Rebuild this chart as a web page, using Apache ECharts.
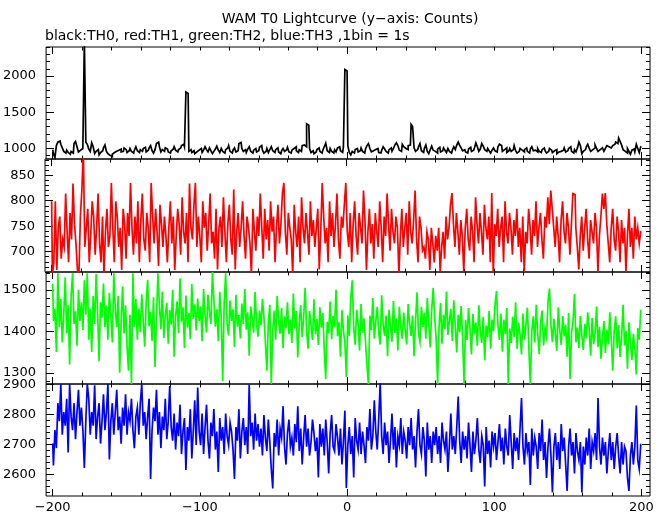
<!DOCTYPE html>
<html><head><meta charset="utf-8">
<script src="https://cdn.jsdelivr.net/npm/echarts@6/dist/echarts.min.js"></script>
<style>html,body{margin:0;padding:0;background:#fff}#c{width:669px;height:515px}</style>
</head><body><div id="c"></div>
<script>
const titleText = 'WAM T0 Lightcurve (y\u2212axis: Counts)';
const subtitleText = 'black:TH0, red:TH1, green:TH2, blue:TH3 ,1bin = 1s';
const timeStart = -200; // time of first 1-s bin

const th0 = [
981,925,870,1037,1085,1100,1055,1005,957,933,973,941,917,957,933,1065,1095,1021,949,973,
997,1037,2500,1085,1055,989,957,1075,1021,925,957,981,909,941,965,1005,1045,957,925,901,
885,917,941,957,933,973,989,949,957,1005,981,941,965,997,957,933,973,1021,965,941,
981,957,997,1013,949,973,1005,1037,965,933,981,1065,1085,1021,949,981,957,1005,989,949,
933,965,989,1021,973,949,981,1005,1037,1055,1021,1780,1760,957,981,941,965,925,949,973,
957,997,941,973,1021,981,949,1005,965,925,957,989,1029,973,941,997,957,933,981,1005,
1037,957,933,973,1005,949,965,1065,1080,997,957,981,941,989,1021,957,933,973,997,949,
965,1013,1037,973,933,957,997,941,981,1021,965,941,981,1005,949,925,965,997,957,981,
1013,949,933,973,997,1021,965,941,981,957,1037,1045,1021,1340,1320,997,941,965,925,949,
981,1005,957,933,973,1021,1070,965,941,997,957,933,981,949,1005,1021,965,941,1021,2090,
2070,1037,941,909,957,933,981,997,949,965,1005,957,933,989,1037,1065,997,949,965,981,
957,997,941,933,973,1021,989,957,933,981,1005,957,997,1045,1075,1037,973,957,1055,1021,
997,981,1037,1045,1330,1300,1005,957,981,1021,1065,965,941,997,1045,957,925,981,1029,973,
957,933,989,1013,949,965,1005,973,941,997,957,933,973,1021,981,1045,1085,1037,1005,965,
981,949,933,989,1013,957,973,1005,1075,1021,957,989,1065,1029,981,957,997,965,933,973,
1005,965,949,1021,1055,1037,957,981,1005,941,965,997,957,981,1037,965,933,957,997,973,
949,981,1005,957,933,989,1021,965,973,949,997,957,941,981,1005,965,933,957,997,973,
941,965,981,925,949,957,933,973,1005,949,965,997,1021,957,933,981,949,1005,1085,1037,
925,957,981,1021,1055,997,957,981,1005,1045,997,957,981,1005,1021,957,997,1037,1021,1005,
1021,1037,1055,1085,1065,1140,1095,1045,981,957,933,997,957,917,973,989,949,1055,997,941,
1021];

const th1 = [
799,655,679,799,664,747,769,686,724,709,814,739,679,776,724,834,754,716,664,655,
769,821,900,709,747,784,679,731,799,769,694,747,814,716,679,769,655,739,784,709,
731,835,747,679,799,769,709,747,664,784,754,686,776,731,835,747,694,769,716,799,
679,762,814,724,702,776,747,679,835,769,716,784,739,672,792,754,709,769,731,679,
747,799,716,769,664,731,784,754,694,807,739,716,776,679,834,747,724,792,835,709,
769,731,679,799,747,776,702,754,814,716,739,686,784,665,747,769,709,807,739,679,
754,792,724,694,822,665,739,776,709,747,799,731,686,769,747,716,655,784,739,702,
769,731,814,747,686,784,724,762,702,799,739,769,679,747,792,716,754,814,835,739,
694,776,747,724,655,792,739,709,769,679,807,747,716,776,739,694,799,731,762,709,
747,784,665,739,835,769,716,747,679,799,731,776,709,754,814,724,686,769,747,792,
835,739,709,776,679,754,799,731,694,776,747,716,820,762,664,739,784,716,754,686,
776,739,709,799,747,679,769,731,814,754,702,784,739,716,769,747,655,731,784,709,
747,776,694,799,739,716,762,820,724,679,769,747,702,709,686,739,724,664,747,716,
679,731,702,747,660,709,739,686,769,724,747,792,815,754,709,776,739,694,762,731,
660,747,784,724,702,769,739,679,807,754,716,776,739,694,792,747,724,769,679,815,
655,754,731,784,709,747,769,679,799,739,716,776,747,694,762,731,784,709,747,679,
769,660,739,716,784,747,694,762,731,799,709,747,776,724,686,769,747,807,754,820,
784,747,709,769,731,679,762,799,739,716,776,747,694,754,814,812,747,709,665,731,
769,702,747,784,724,686,762,739,716,776,747,660,731,769,814,784,815,754,716,679,
747,784,724,702,769,739,679,762,716,747,660,731,784,709,747,686,769,724,747,716,
739];

const th2 = [
1515,1425,1455,1350,1540,1410,1478,1373,1440,1530,1395,1463,1320,1485,1540,1418,1448,1365,1500,1425,
1470,1403,1523,1440,1540,1380,1455,1350,1485,1418,1538,1448,1328,1470,1433,1515,1410,1463,1380,1493,
1440,1373,1540,1455,1410,1485,1300,1425,1508,1395,1463,1365,1305,1440,1273,1540,1410,1478,1380,1455,
1398,1489,1426,1363,1468,1524,1412,1447,1377,1482,1314,1433,1540,1461,1405,1496,1384,1440,1468,1370,
1451,1416,1500,1339,1437,1472,1395,1528,1423,1458,1360,1486,1409,1444,1381,1514,1430,1465,1402,1479,
1425,1460,1376,1502,1439,1397,1488,1446,1418,1543,1474,1411,1453,1376,1495,1432,1280,1467,1540,1418,
1390,1474,1425,1453,1362,1488,1411,1439,1383,1467,1418,1502,1404,1446,1341,1460,1432,1397,1495,1418,
1387,1450,1415,1478,1436,1373,1305,1422,1464,1273,1401,1450,1380,1485,1422,1394,1457,1359,1436,1408,
1470,1393,1428,1372,1491,1407,1449,1337,1421,1463,1386,1435,1505,1400,1358,1449,1414,1379,1477,1393,
1430,1367,1458,1409,1444,1353,1285,1423,1395,1472,1381,1437,1409,1500,1388,1423,1339,1451,1402,1374,
1290,1438,1389,1480,1523,1410,1368,1452,1417,1354,1466,1396,1431,1375,1319,1273,1438,1403,1480,1382,
1424,1459,1396,1368,1487,1417,1389,1438,1340,1452,1410,1375,1473,1396,1431,1354,1459,1410,1382,1445,
1403,1368,1466,1417,1389,1438,1340,1424,1494,1396,1375,1459,1410,1445,1382,1480,1417,1361,1452,1505,
1433,1384,1273,1412,1468,1370,1440,1405,1496,1391,1426,1454,1377,1475,1412,1349,1440,1398,1461,1384,
1273,1428,1379,1456,1407,1344,1442,1393,1421,1365,1463,1400,1372,1435,1330,1414,1386,1449,1358,1428,
1400,1463,1497,1414,1379,1442,1351,1428,1393,1456,1273,1407,1372,1435,1386,1470,1358,1421,1393,1344,
1443,1380,1415,1457,1359,1273,1400,1436,1373,1464,1394,1345,1422,1450,1366,1408,1387,1471,1503,1415,
1374,1430,1395,1353,1458,1402,1367,1437,1388,1416,1339,1444,1285,1395,1423,1490,1374,1409,1360,1437,
1390,1355,1418,1383,1446,1404,1341,1432,1369,1397,1460,1362,1411,1334,1383,1425,1348,1404,1369,1446,
1380,1305,1401,1436,1359,1415,1338,1387,1464,1366,1401,1310,1422,1373,1331,1394,1359,1296,1408,1380,
1450];

const th3 = [
2703,2630,2748,2688,2838,2778,2902,2733,2808,2763,2853,2673,2902,2793,2748,2838,2718,2808,2883,2763,
2823,2748,2622,2778,2902,2853,2733,2808,2763,2898,2718,2793,2838,2703,2778,2868,2748,2808,2902,2650,
2778,2838,2733,2808,2883,2748,2793,2703,2823,2763,2868,2733,2808,2778,2853,2748,2688,2793,2823,2733,
2838,2902,2763,2808,2718,2793,2853,2585,2748,2823,2778,2883,2733,2808,2688,2793,2748,2853,2718,2778,
2895,2758,2713,2803,2683,2773,2728,2833,2668,2743,2788,2615,2758,2713,2818,2653,2743,2848,2698,2890,
2743,2698,2803,2668,2758,2833,2713,2653,2773,2728,2818,2683,2743,2608,2788,2713,2758,2668,2803,2728,
2698,2773,2743,2683,2585,2758,2713,2818,2653,2743,2788,2698,2758,2668,2900,2728,2773,2683,2803,2713,
2768,2693,2753,2663,2798,2723,2678,2783,2708,2618,2553,2738,2693,2783,2663,2753,2723,2828,2693,2633,
2738,2783,2693,2723,2663,2768,2708,2828,2678,2753,2633,2723,2798,2693,2753,2663,2708,2783,2738,2678,
2723,2590,2768,2693,2753,2663,2783,2708,2603,2738,2798,2693,2678,2768,2723,2663,2753,2633,2708,2813,
2555,2698,2758,2668,2728,2590,2788,2713,2683,2773,2668,2743,2698,2638,2758,2713,2818,2683,2728,2848,
2743,2683,2788,2905,2728,2668,2773,2698,2743,2638,2713,2803,2683,2758,2623,2728,2698,2788,2668,2743,
2713,2653,2758,2698,2788,2683,2728,2623,2743,2818,2698,2668,2758,2713,2593,2773,2683,2728,2638,2743,
2698,2758,2668,2728,2638,2773,2713,2683,2743,2608,2698,2803,2683,2728,2668,2758,2860,2713,2638,2743,
2683,2728,2653,2773,2698,2608,2743,2668,2713,2788,2683,2638,2728,2698,2560,2758,2668,2713,2623,2743,
2693,2738,2648,2708,2768,2678,2723,2633,2753,2693,2663,2798,2708,2618,2738,2678,2723,2648,2753,2855,
2693,2633,2738,2678,2708,2565,2753,2663,2723,2693,2618,2738,2678,2783,2648,2708,2588,2693,2753,2663,
2540,2693,2738,2648,2708,2618,2768,2678,2723,2633,2545,2693,2753,2663,2708,2603,2738,2678,2648,2708,
2540,2693,2633,2723,2663,2753,2618,2708,2678,2738,2648,2855,2693,2633,2723,2663,2708,2603,2678,2738,
2648,2708,2618,2693,2738,2663,2603,2708,2633,2693,2678,2588,2545,2663,2708,2633,2693,2830,2648,2618,
2700];

const xLabels = [-200, -100, 0, 100, 200];
const xMajorTicks = [-200, 0, 200];
const xMinorTicks = [-200,-180,-160,-140,-120,-100,-80,-60,-40,-20,0,20,40,60,80,100,120,140,160,180,200];
const yLabels = [
  [1000, 1500, 2000],
  [700, 750, 800, 850],
  [1300, 1400, 1500],
  [2600, 2700, 2800, 2900]
];
const yMinorTicks = [
  [900,1000,1100,1200,1300,1400,1500,1600,1700,1800,1900,2000,2100,2200,2300,2400],
  [660,670,680,690,700,710,720,730,740,750,760,770,780,790,800,810,820,830,840,850,860,870,880],
  [1280,1300,1320,1340,1360,1380,1400,1420,1440,1460,1480,1500,1520,1540],
  [2540,2560,2580,2600,2620,2640,2660,2680,2700,2720,2740,2760,2780,2800,2820,2840,2860,2880,2900]
];
const yRanges = [[851, 2403], [660, 882], [1273, 1543], [2528, 2902]];
const xRange = [-204.5, 205.8];

const FONT = '"DejaVu Sans", Verdana, sans-serif';
const panelBoxes = [{top:47,height:112},{top:159,height:113},{top:272,height:112},{top:384,height:112}];
const colors = ['#000000', '#ff0000', '#00ff00', '#0000ff'];
const seriesData = [th0, th1, th2, th3];

const grids = panelBoxes.map(b => ({left:45, right:19, top:b.top, height:b.height, show:true, borderColor:'#000', borderWidth:1, backgroundColor:'transparent'}));
const xAxes = [], yAxes = [], series = [];
const plain = v => String(v).replace('-', '\u2212');

for (let p = 0; p < 4; p++) {
  const xi = xAxes.length;
  [['bottom', xMajorTicks, 7, p === 3], ['bottom', xMinorTicks, 3.5, false],
   ['top', xMajorTicks, 7, false], ['top', xMinorTicks, 3.5, false]].forEach(([pos, ticks, len, lab]) => {
    xAxes.push({
      type:'value', gridIndex:p, position:pos, min:xRange[0], max:xRange[1],
      axisLine:{show:false, onZero:false}, splitLine:{show:false},
      axisTick:{show:true, inside:true, length:len, customValues:ticks, lineStyle:{color:'#000', width:1}},
      axisLabel:{show:lab, customValues:xLabels, margin:5, color:'#000', fontFamily:FONT, fontSize:13, formatter:plain}
    });
  });
  const yi = yAxes.length;
  [['left', yLabels[p], 8, true], ['left', yMinorTicks[p], 4, false],
   ['right', yLabels[p], 8, false], ['right', yMinorTicks[p], 4, false]].forEach(([pos, ticks, len, lab]) => {
    yAxes.push({
      type:'value', gridIndex:p, position:pos, min:yRanges[p][0], max:yRanges[p][1],
      axisLine:{show:false, onZero:false}, splitLine:{show:false},
      axisTick:{show:true, inside:true, length:len, customValues:ticks, lineStyle:{color:'#000', width:1}},
      axisLabel:{show:lab, customValues:yLabels[p], margin:10, color:'#000', fontFamily:FONT, fontSize:13, formatter:plain}
    });
  });
  series.push({
    type:'line', xAxisIndex:xi, yAxisIndex:yi, step:'middle', symbol:'none', clip:true,
    lineStyle:{color:colors[p], width:1.7, join:'miter', cap:'butt'}, itemStyle:{color:colors[p]},
    data: seriesData[p].map((v, i) => [timeStart + i, v])
  });
}

const chart = echarts.init(document.getElementById('c'), null, {renderer:'canvas'});
chart.setOption({
  animation:false, backgroundColor:'#fff',
  grid:grids, xAxis:xAxes, yAxis:yAxes, series:series,
  graphic:[
    {type:'text', x:350, y:19, style:{text:titleText, fill:'#000', font:'14px ' + FONT, align:'center', verticalAlign:'middle'}},
    {type:'text', x:45, y:36, style:{text:subtitleText, fill:'#000', font:'14px ' + FONT, align:'left', verticalAlign:'middle'}}
  ]
});
</script></body></html>
